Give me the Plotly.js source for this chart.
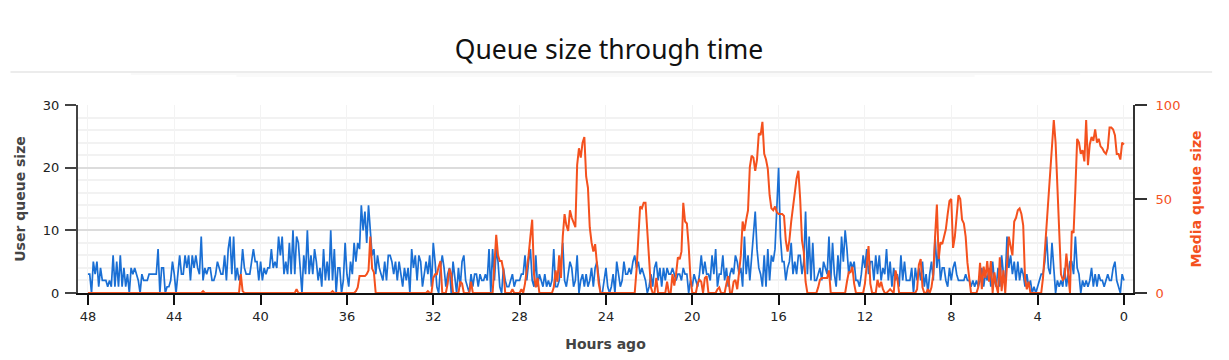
<!DOCTYPE html>
<html>
<head>
<meta charset="utf-8">
<script src="https://cdn.plot.ly/plotly-3.0.1.min.js"></script>
<style>
  html, body { margin: 0; padding: 0; background: #ffffff; }
  #chart { width: 1229px; height: 360px; }
</style>
</head>
<body>
<div id="chart"></div>
<script>
// Sampling: one value every 5 minutes, from 48 hours ago to now (12 values per hour)
const SAMPLES_PER_HOUR = 12;
const START_HOURS_AGO = 48;

// User queue size (left axis), one row per hour, starting 48 hours ago
const userQueue = [
  3,3,0,5,3,5,1,4,2,2,2,1,
  2,1,6,1,5,1,6,1,4,1,3,0,
  4,3,4,3,2,0,3,2,2,2,3,3,
  3,3,3,7,0,4,4,0,1,1,2,5,
  3,0,3,6,3,3,6,4,6,2,6,4,
  6,4,3,9,2,4,3,4,4,2,2,3,
  5,4,3,3,6,2,7,9,3,9,2,4,
  2,3,7,4,3,3,3,5,7,5,5,2,
  5,2,4,3,4,4,7,4,5,4,9,6,
  9,3,5,3,8,3,10,3,9,8,4,0,
  6,3,10,3,6,3,7,5,2,4,1,7,
  2,5,2,10,2,7,0,4,4,0,2,8,
  3,1,5,3,8,5,8,7,14,10,13,8,
  14,9,6,7,3,6,4,3,2,5,2,6,
  6,5,3,5,2,5,3,1,4,2,4,0,
  7,4,6,2,6,5,1,3,5,3,6,1,
  8,5,1,0,4,6,4,1,3,4,0,5,
  2,0,4,1,5,6,2,1,0,3,1,3,
  3,1,3,2,2,3,2,7,0,7,2,7,
  5,1,0,4,2,1,1,2,3,1,2,2,
  2,3,3,6,2,5,7,2,1,6,1,3,
  2,1,3,1,2,1,2,7,1,1,2,5,
  8,2,1,3,5,4,1,2,6,0,2,3,
  1,3,1,2,4,1,4,5,2,0,0,2,
  4,1,0,1,3,0,5,3,1,2,5,3,
  3,4,3,5,6,4,5,3,4,3,2,0,
  1,3,1,4,5,2,4,1,4,2,4,3,
  3,4,3,2,3,3,2,4,3,3,0,2,
  1,3,2,1,3,6,3,5,3,3,2,6,
  3,7,1,3,3,6,2,4,1,3,4,3,
  6,5,3,4,1,9,3,6,2,6,10,13,
  7,4,3,1,6,1,7,2,6,5,7,13,
  20,9,5,5,2,4,5,8,3,5,3,6,
  6,3,5,13,3,9,2,8,2,2,3,4,
  2,5,4,3,9,2,8,3,1,6,2,9,
  5,10,7,3,5,4,5,2,2,1,3,6,
  4,7,3,5,5,2,6,3,6,2,4,3,
  7,2,5,1,4,2,3,1,6,2,5,2,
  2,2,4,0,4,2,4,2,5,1,3,0,
  3,5,2,9,4,7,2,4,4,2,1,4,
  2,4,5,3,2,2,2,2,3,2,2,1,
  2,1,2,1,2,4,1,3,2,4,1,5,
  2,1,4,1,6,3,2,9,4,6,3,5,
  2,5,2,4,3,1,3,1,2,0,1,0,
  1,2,3,3,5,9,4,3,8,4,0,2,
  1,2,1,4,1,3,5,5,3,9,4,3,
  0,2,1,2,1,2,4,1,3,1,3,2,
  2,1,2,3,2,2,4,5,2,1,0,3,
  2
];

// Media queue size (right axis), one row per hour, starting 48 hours ago
const mediaQueue = [
  0,0,0,0,0,0,0,0,0,0,0,0,
  0,0,0,0,0,0,0,0,0,0,0,0,
  0,0,0,0,0,0,0,0,0,0,0,0,
  0,0,0,0,0,0,0,0,0,0,0,0,
  0,0,0,0,0,0,0,0,0,0,0,0,
  0,0,0,0,1,0,0,0,0,0,0,0,
  0,0,0,0,0,0,0,0,0,0,0,0,
  0,10,1,0,0,0,0,0,0,0,0,0,
  0,0,0,0,0,0,0,0,0,0,0,0,
  0,0,0,0,0,0,0,0,2,0,0,0,
  0,0,0,0,0,0,0,0,0,0,0,0,
  0,0,0,0,1,0,0,0,0,0,0,0,
  0,0,0,0,0,1,3,9,9,9,9,10,
  12,30,13,11,0,0,0,0,0,0,0,0,
  0,0,0,0,0,0,0,0,0,0,0,0,
  0,0,0,0,0,0,0,0,0,1,0,0,
  8,10,10,14,17,0,0,0,5,13,10,0,
  0,0,0,6,5,0,0,0,0,6,0,0,
  0,0,0,0,0,0,0,0,0,0,15,31,
  20,17,17,12,0,0,0,0,2,0,0,0,
  0,2,0,5,12,20,30,39,10,3,8,0,
  0,0,0,0,0,0,0,3,12,6,20,8,
  30,42,36,33,44,40,37,35,68,77,72,80,
  83,62,56,35,27,22,26,17,5,0,0,0,
  0,0,0,0,0,0,0,0,0,0,0,0,
  0,0,0,0,0,12,30,46,45,48,48,33,
  17,3,0,0,8,0,0,0,0,0,6,0,
  0,10,4,10,19,18,22,48,38,37,25,8,
  0,0,0,5,7,6,0,8,9,0,0,0,
  0,0,2,3,0,0,0,5,9,0,0,6,
  7,2,10,20,38,33,39,44,67,73,72,65,
  71,85,84,91,74,71,66,52,45,44,46,43,
  42,42,42,41,28,22,28,38,46,56,61,65,
  50,28,22,6,0,0,0,0,0,0,3,7,
  8,8,8,8,12,0,0,0,0,0,0,0,
  0,0,6,11,11,14,5,0,0,0,0,0,
  5,15,25,5,0,0,0,7,3,6,2,0,
  0,1,2,1,0,12,8,0,0,0,0,0,
  0,0,0,0,0,2,15,18,3,0,0,2,
  0,3,10,30,47,18,27,26,30,34,42,49,
  50,24,30,40,52,50,39,37,30,16,7,0,
  0,0,0,3,16,2,14,8,17,6,17,0,
  11,4,0,19,1,12,0,15,30,25,20,38,
  40,44,45,42,36,8,2,6,0,0,0,0,
  0,0,0,8,23,36,50,62,78,92,80,56,
  40,10,7,8,21,8,0,33,32,55,82,80,
  74,76,70,92,68,79,83,81,87,80,82,78,
  77,75,74,77,88,88,87,84,74,74,71,80,
  79
];

const xTickValues = [48, 44, 40, 36, 32, 28, 24, 20, 16, 12, 8, 4, 0];
const leftTickValues = [0, 10, 20, 30];
const rightTickValues = [0, 50, 100];

// time axis: hours ago for each sample
const hoursAgo = userQueue.map((_, i) => START_HOURS_AGO - i / SAMPLES_PER_HOUR);

const BLUE = '#1a6fd4';
const ORANGE = '#f4511e';

const traces = [
  {
    x: hoursAgo, y: userQueue, type: 'scatter', mode: 'lines',
    name: 'User queue size', yaxis: 'y',
    line: { color: BLUE, width: 1.7 }, hoverinfo: 'x+y'
  },
  {
    x: hoursAgo, y: mediaQueue, type: 'scatter', mode: 'lines',
    name: 'Media queue size', yaxis: 'y2',
    line: { color: ORANGE, width: 2 }, hoverinfo: 'x+y'
  }
];

const tickFont = { family: 'DejaVu Sans, Verdana, sans-serif', size: 13, color: '#222' };
const headerY = (293 - 72) / 188;

const layout = {
  width: 1229, height: 360,
  paper_bgcolor: '#ffffff', plot_bgcolor: '#ffffff',
  margin: { l: 78, r: 96, t: 105, b: 67 },
  showlegend: false,
  title: {
    text: 'Queue size through time',
    x: 0.4955, xref: 'container', xanchor: 'center',
    y: 1 - 50 / 360, yref: 'container', yanchor: 'middle',
    font: { family: 'Noto Sans, Open Sans, sans-serif', size: 26.5, color: '#111' }
  },
  xaxis: {
    range: [48.46, -0.42],
    tickvals: xTickValues,
    ticktext: xTickValues.map(String),
    showline: true, linecolor: '#111', linewidth: 2,
    ticks: 'outside', ticklen: 10, tickwidth: 1.5, tickcolor: '#111',
    tickfont: tickFont,
    showgrid: true, gridcolor: '#f3f3f3', gridwidth: 1.2,
    zeroline: false,
    title: {
      text: 'Hours ago', standoff: 17,
      font: { family: 'DejaVu Sans, Verdana, sans-serif', size: 14, color: '#444', weight: 'bold' }
    }
  },
  yaxis: {
    range: [0, 30],
    tickvals: leftTickValues,
    showline: true, linecolor: '#444', linewidth: 2,
    ticks: 'outside', ticklen: 11, tickwidth: 1.5, tickcolor: '#444',
    ticklabelstandoff: 3,
    tickfont: tickFont,
    showgrid: true, gridcolor: '#dcdcdc', gridwidth: 1.5,
    minor: { dtick: 2, showgrid: true, gridcolor: '#f2f2f2', gridwidth: 1.5, ticks: '' },
    zeroline: false,
    title: {
      text: 'User queue size', standoff: 14,
      font: { family: 'DejaVu Sans, Verdana, sans-serif', size: 14, color: '#444', weight: 'bold' }
    }
  },
  yaxis2: {
    range: [0, 100],
    overlaying: 'y', side: 'right',
    tickvals: rightTickValues,
    showline: true, linecolor: '#333', linewidth: 2,
    ticks: 'outside', ticklen: 12, tickwidth: 1.5, tickcolor: '#333',
    ticklabelstandoff: 6,
    tickfont: { family: 'DejaVu Sans, Verdana, sans-serif', size: 13, color: ORANGE },
    showgrid: false, zeroline: false,
    title: {
      text: 'Media queue size', standoff: 12,
      font: { family: 'DejaVu Sans, Verdana, sans-serif', size: 14, color: ORANGE, weight: 'bold' }
    }
  },
  shapes: [
    { type: 'line', xref: 'paper', yref: 'paper', x0: -0.064, x1: 1.075, y0: headerY, y1: headerY,
      line: { color: '#e6e6e6', width: 1.5 } },
    { type: 'line', xref: 'paper', yref: 'paper', x0: 0.05, x1: 0.95, y0: headerY - 2 / 188, y1: headerY - 2 / 188,
      line: { color: 'rgba(0,0,0,0.025)', width: 2 } },
    { type: 'line', xref: 'paper', yref: 'paper', x0: 0.15, x1: 0.85, y0: headerY - 4 / 188, y1: headerY - 4 / 188,
      line: { color: 'rgba(0,0,0,0.018)', width: 2 } }
  ]
};

Plotly.newPlot('chart', traces, layout, { displayModeBar: false, responsive: false });
</script>
</body>
</html>
